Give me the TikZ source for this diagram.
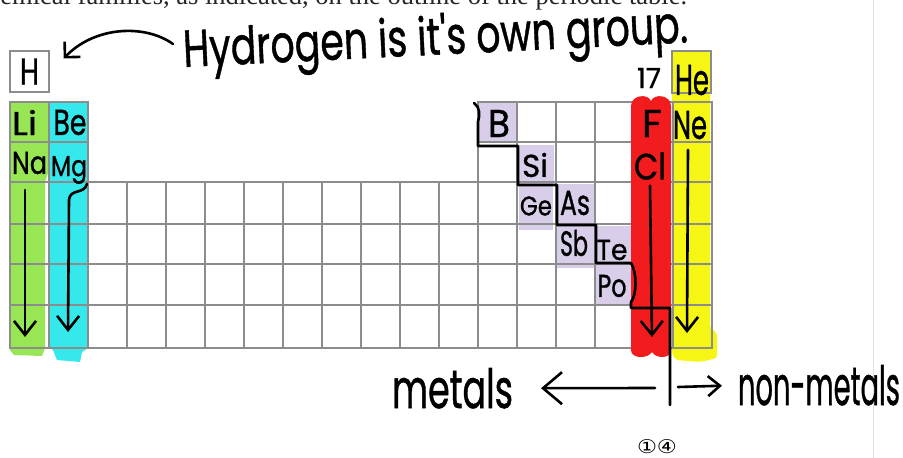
\documentclass[tikz,border=0pt]{standalone}
\usepackage{fontspec}
\setmainfont{Liberation Serif}
\newfontfamily\handfont[FakeBold=1]{Poppins}
\newfontfamily\symfont{DejaVu Sans}
\usetikzlibrary{arrows.meta}
\definecolor{hlgreen}{RGB}{152,230,84}
\definecolor{hlcyan}{RGB}{52,232,236}
\definecolor{hlred}{RGB}{242,28,30}
\definecolor{hlyellow}{RGB}{246,246,20}
\definecolor{hllav}{RGB}{216,206,234}
\definecolor{gridgray}{RGB}{140,140,140}
\newcommand\hw[3]{\resizebox{#1pt}{#2pt}{\handfont\fontsize{30}{30}\selectfont #3}}
\begin{document}
\begin{tikzpicture}[x=1pt,y=-1pt,
  hand/.style={line width=2.6pt, black, line cap=round, line join=round},
  gridline/.style={draw=gridgray, line width=1.3pt},
  lbl/.style={inner sep=0pt, outer sep=0pt},
  cellbox/.style={draw=gridgray, line width=1.3pt, minimum width=39pt, minimum height=41pt, inner sep=0pt},
  colarrow/.style={hand, -{Straight Barb[length=14pt,width=22pt]}}]
\useasboundingbox (0,0) rectangle (903,458);
\fill[white] (0,0) rectangle (903,458);
% caption cut at top
\node[lbl, anchor=base east, text=black!85, font=\fontsize{26.5}{30}\selectfont] (caption) at (687,4.5) {chemical families, as indicated, on the outline of the periodic table.};
\draw[black!12, line width=1pt] (873,0) -- (873,458);
% highlights
\fill[hlgreen] (10,102) -- (49,102) -- (49,170) -- (45,182) -- (45,348) -- (42,356) -- (14,355) -- (10,350) -- cycle;
\fill[hlcyan] (49,102) -- (88,102) -- (88,348) -- (82,352) -- (80,362) -- (57,360) -- (53,350) -- (50,348) -- cycle;
\fill[hllav] (478,102) rectangle (516,143);
\fill[hllav] (518,145) rectangle (554,181);
\fill[hllav] (519,182) rectangle (553,230);
\fill[hllav] (557,184) rectangle (594,223);
\fill[hllav] (557,225) rectangle (596,268);
\fill[hllav] (596,226) rectangle (634,264);
\fill[hllav] (596,265) rectangle (634,305);
\fill[hlyellow, rounded corners=3pt] (672,51) -- (710,51) -- (710,328) -- (717,333) -- (717,358) -- (700,362) -- (676,360) -- (672,354) -- cycle;
% grid
\node[cellbox] (hbox) at (29.5,71.5) {\hw{19}{26}{H}};
\node[cellbox, minimum height=42pt] (hebox) at (691.5,72) {};
\draw[gridline] (10,102) rectangle (88,182) (49,102) -- (49,182) (10,142) -- (88,142);
\draw[gridline] (478,102) rectangle (712,182) (478,142) -- (712,142);
\foreach \i in {13,...,17} \draw[gridline] ({10+39*\i},102) -- ({10+39*\i},182);
\draw[gridline] (10,182) rectangle (712,348);
\foreach \i in {1,...,17} \draw[gridline] ({10+39*\i},182) -- ({10+39*\i},348);
\foreach \y in {224,264,305} \draw[gridline] (10,\y) -- (712,\y);
% red group 17
\fill[hlred] (631,106) .. controls (631,95) and (648,93) .. (651,101) .. controls (654,93) and (671,95) .. (671,106) -- (671,350) .. controls (671,359) and (656,359) .. (652,352) .. controls (648,359) and (631,359) .. (631,350) -- cycle;
% metal / non-metal staircase
\draw[hand] (474,103) .. controls (480,107) and (480,115) .. (478,122) -- (478,146) -- (518,146) -- (518,185) -- (557,185) -- (557,225) -- (596,225) -- (596,263) -- (631,263) .. controls (637,272) and (637,295) .. (631,302) -- (631,308) -- (670,308) -- (670,405);
% element labels
\node[lbl] (li) at (24.5,122.5) {\hw{25}{25}{Li}};
\node[lbl] (be) at (70,122.5) {\hw{33}{25}{Be}};
\node[lbl] (na) at (29.5,163) {\hw{35}{22}{Na}};
\node[lbl] (mg) at (69,170) {\hw{36}{20}{Mg}};
\node[lbl] (b) at (499,123.5) {\hw{22}{27}{B}};
\node[lbl] (si) at (535,165) {\hw{26}{24}{Si}};
\node[lbl] (ge) at (536,206) {\hw{32}{19}{Ge}};
\node[lbl] (as) at (575,203) {\hw{30}{24}{As}};
\node[lbl] (sb) at (574,243) {\hw{28}{26}{Sb}};
\node[lbl] (te) at (612,250) {\hw{31}{20}{Te}};
\node[lbl] (po) at (612,286) {\hw{29}{22}{Po}};
\node[lbl] (f) at (652,123.5) {\hw{20}{27}{F}};
\node[lbl] (cl) at (650,166) {\hw{32}{27}{Cl}};
\node[lbl] (he) at (692,80) {\hw{34}{30}{He}};
\node[lbl] (ne) at (690,125) {\hw{34}{28}{Ne}};
\node[lbl] (g17) at (649,78) {\hw{24}{20}{17}};
% group arrows
\coordinate (listart) at (25,190); \coordinate (liend) at (25,337);
\coordinate (beend) at (68,332);
\coordinate (clend) at (652,337);
\coordinate (nestart) at (688,150); \coordinate (neend) at (687,333);
\draw[colarrow] (listart) -- (liend);
\draw[colarrow] (mg.south east) .. controls (84,195) and (70,188) .. (69,200) -- (beend);
\draw[colarrow] (cl.south) ++(0,6) -- (clend);
\draw[colarrow] (nestart) -- (neend);
% heading
\node[lbl, anchor=base west, rotate=2.8] (hyd) at (184,67) {\resizebox{505pt}{\height}{\handfont\fontsize{52}{54}\selectfont Hydrogen is it's own group.}};
\coordinate (hstart) at (173,44);
\draw[hand, -{Straight Barb[length=11pt,width=22pt]}] (hstart) .. controls (145,24) and (95,26) .. ([shift={(14,-13)}]hbox.east);
% metals / non-metals
\node[lbl, anchor=base west] (metals) at (392,408) {\hw{121}{40}{metals}};
\node[lbl, anchor=base west] (nonmetals) at (738,405) {\hw{162}{40}{non-metals}};
\coordinate (lstart) at (655,388);
\coordinate (rstart) at (678,387);
\draw[hand, -{Straight Barb[length=19pt,width=32pt]}, shorten >=28pt] (lstart) -- (metals.east);
\draw[hand, -{Straight Barb[length=12pt,width=20pt]}, shorten >=16pt] (rstart) -- (nonmetals.west);
\node[lbl] (pagenum) at (657,446.5) {\resizebox{40pt}{14pt}{\symfont ①④}};
\end{tikzpicture}
\end{document}
